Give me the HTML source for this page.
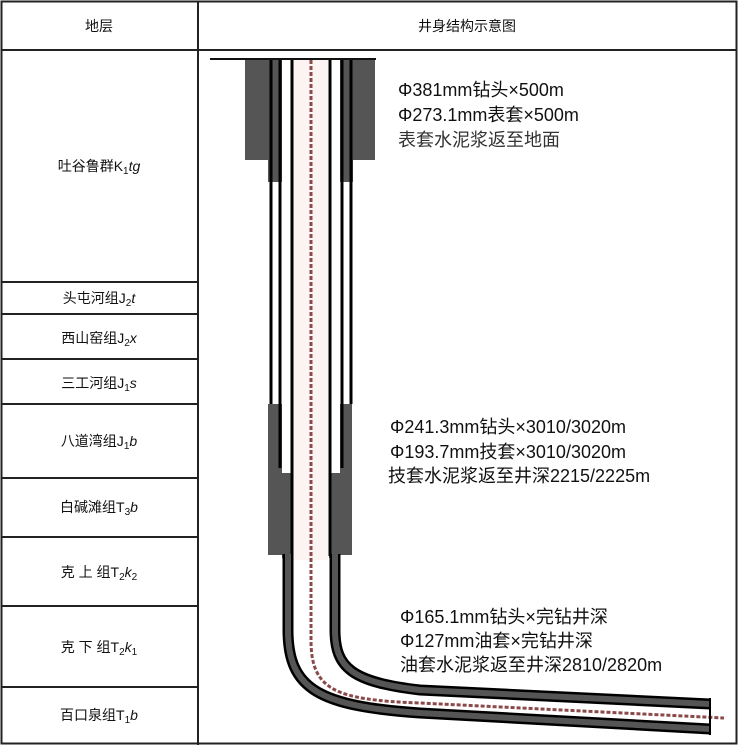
<!DOCTYPE html>
<html><head><meta charset="utf-8"><style>
body{margin:0;background:#fff;}
svg{display:block;}
.t{font-family:"Liberation Sans","Noto Sans CJK SC",sans-serif;font-size:14px;fill:#111;}
.r{font-family:"Liberation Sans","Noto Sans CJK SC",sans-serif;font-size:18px;fill:#111;}
</style></head><body>
<svg width="738" height="745" viewBox="0 0 738 745" xmlns="http://www.w3.org/2000/svg">
<rect x="0" y="0" width="738" height="745" fill="#fff"/>
<g stroke="#222" stroke-width="2" fill="none">
<rect x="1.5" y="1.5" width="735" height="742"/>
<line x1="1" y1="50" x2="737" y2="50"/>
<line x1="198" y1="1" x2="198" y2="745"/>
<line x1="1" y1="282" x2="198" y2="282"/>
<line x1="1" y1="314" x2="198" y2="314"/>
<line x1="1" y1="359" x2="198" y2="359"/>
<line x1="1" y1="404" x2="198" y2="404"/>
<line x1="1" y1="478" x2="198" y2="478"/>
<line x1="1" y1="537" x2="198" y2="537"/>
<line x1="1" y1="606" x2="198" y2="606"/>
<line x1="1" y1="687" x2="198" y2="687"/>
</g>
<g class="t" text-anchor="middle">
<text x="99" y="31">地层</text>
<text x="467" y="31">井身结构示意图</text>
<text x="99" y="171">吐谷鲁群K<tspan font-size="10" dy="3">1</tspan><tspan dy="-3" font-style="italic">tg</tspan></text>
<text x="99" y="303">头屯河组J<tspan font-size="10" dy="3">2</tspan><tspan dy="-3" font-style="italic">t</tspan></text>
<text x="99" y="343">西山窑组J<tspan font-size="10" dy="3">2</tspan><tspan dy="-3" font-style="italic">x</tspan></text>
<text x="99" y="388">三工河组J<tspan font-size="10" dy="3">1</tspan><tspan dy="-3" font-style="italic">s</tspan></text>
<text x="99" y="446">八道湾组J<tspan font-size="10" dy="3">1</tspan><tspan dy="-3" font-style="italic">b</tspan></text>
<text x="99" y="512">白碱滩组T<tspan font-size="10" dy="3">3</tspan><tspan dy="-3" font-style="italic">b</tspan></text>
<text x="99" y="577">克 上 组T<tspan font-size="10" dy="3">2</tspan><tspan dy="-3" font-style="italic">k</tspan><tspan font-size="10" dy="3">2</tspan></text>
<text x="99" y="652">克 下 组T<tspan font-size="10" dy="3">2</tspan><tspan dy="-3" font-style="italic">k</tspan><tspan font-size="10" dy="3">1</tspan></text>
<text x="99" y="720">百口泉组T<tspan font-size="10" dy="3">1</tspan><tspan dy="-3" font-style="italic">b</tspan></text>
</g>
<!-- well -->
<line x1="210" y1="59" x2="376" y2="59" stroke="#111" stroke-width="2"/>
<rect x="293" y="60" width="35" height="500" fill="#fbf4f3"/>
<rect x="245" y="60" width="23" height="100" fill="#555"/>
<rect x="353" y="60" width="22" height="100" fill="#555"/>
<rect x="268" y="60" width="14" height="122" fill="#555"/>
<rect x="340" y="60" width="13" height="122" fill="#555"/>
<rect x="268" y="404" width="14" height="151" fill="#555"/>
<rect x="282" y="473" width="10" height="85" fill="#555"/>
<rect x="340" y="404" width="12" height="151" fill="#555"/>
<rect x="329" y="473" width="11" height="85" fill="#555"/>
<g stroke="#000" stroke-width="3">
<line x1="271" y1="60" x2="271" y2="404"/>
<line x1="280" y1="60" x2="280" y2="468"/>
<line x1="351" y1="60" x2="351" y2="404"/>
<line x1="342" y1="60" x2="342" y2="468"/>
<line x1="292" y1="60" x2="292" y2="556"/>
<line x1="330" y1="60" x2="330" y2="556"/>
</g>
<g fill="none">
<path d="M288,554 V630 C288,690 320,706 420,713 L710,729" stroke="#000" stroke-width="11"/>
<path d="M288,554 V630 C288,690 320,706 420,713 L710,729" stroke="#555" stroke-width="6"/>
<path d="M335,554 V630 C335,668 352,682 420,690 L710,704" stroke="#000" stroke-width="11"/>
<path d="M335,554 V630 C335,668 352,682 420,690 L710,704" stroke="#555" stroke-width="6"/>
<path d="M311,60 V640 C311,690 335,700 420,703 L724,718" stroke="#8b4a4a" stroke-width="3" stroke-dasharray="4,2"/>
</g>
<line x1="710" y1="698" x2="710" y2="735" stroke="#000" stroke-width="2"/>
<g class="r">
<text x="398" y="96">Φ381mm钻头×500m</text>
<text x="398" y="121">Φ273.1mm表套×500m</text>
<text x="398" y="146" fill="#333">表套水泥浆返至地面</text>
<text x="390" y="433">Φ241.3mm钻头×3010/3020m</text>
<text x="390" y="458">Φ193.7mm技套×3010/3020m</text>
<text x="388" y="482">技套水泥浆返至井深2215/2225m</text>
<text x="400" y="623">Φ165.1mm钻头×完钻井深</text>
<text x="400" y="647">Φ127mm油套×完钻井深</text>
<text x="400" y="671">油套水泥浆返至井深2810/2820m</text>
</g>
</svg>
</body></html>
